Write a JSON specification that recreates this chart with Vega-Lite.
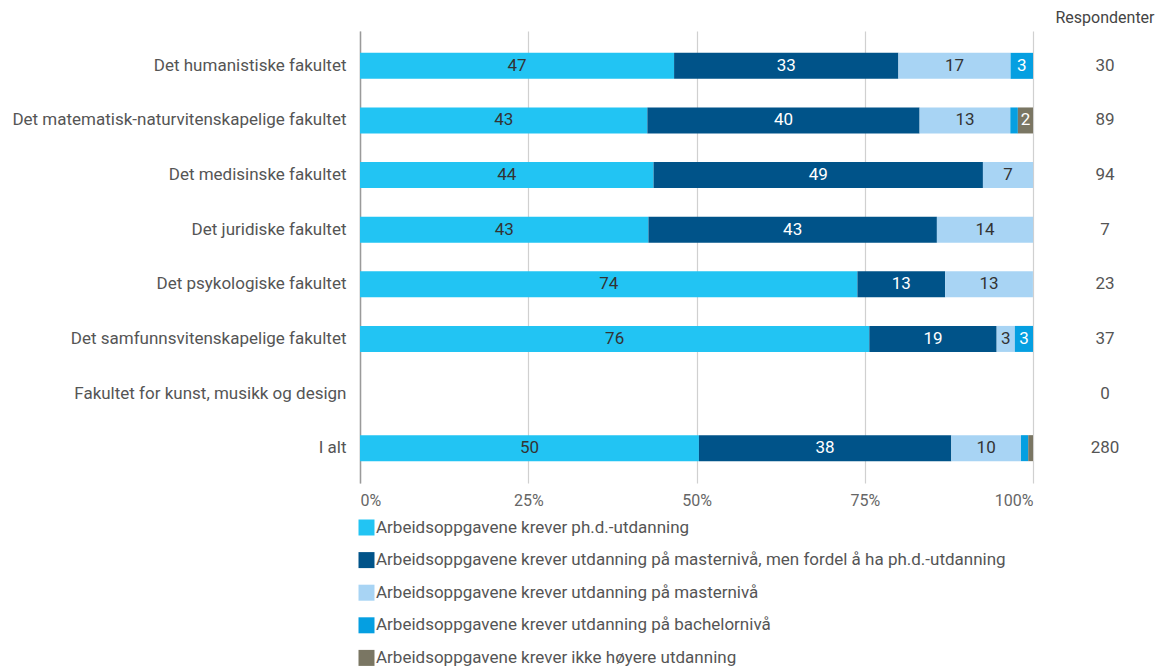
{
  "$schema": "https://vega.github.io/schema/vega-lite/v6.json",
  "padding": {"left": 5, "top": 10, "right": 5, "bottom": 0},
  "bounds": "flush",
  "spacing": 22,
  "config": {"font": "Roboto", "view": {"stroke": null}},
  "datasets": {
    "shares": [
      {"fac": "Det humanistiske fakultet", "cat": "Arbeidsoppgavene krever ph.d.-utdanning", "ord": 1, "val": 46.67},
      {"fac": "Det humanistiske fakultet", "cat": "Arbeidsoppgavene krever utdanning på masternivå, men fordel å ha ph.d.-utdanning", "ord": 2, "val": 33.33},
      {"fac": "Det humanistiske fakultet", "cat": "Arbeidsoppgavene krever utdanning på masternivå", "ord": 3, "val": 16.67},
      {"fac": "Det humanistiske fakultet", "cat": "Arbeidsoppgavene krever utdanning på bachelornivå", "ord": 4, "val": 3.33},
      {"fac": "Det matematisk-naturvitenskapelige fakultet", "cat": "Arbeidsoppgavene krever ph.d.-utdanning", "ord": 1, "val": 42.7},
      {"fac": "Det matematisk-naturvitenskapelige fakultet", "cat": "Arbeidsoppgavene krever utdanning på masternivå, men fordel å ha ph.d.-utdanning", "ord": 2, "val": 40.45},
      {"fac": "Det matematisk-naturvitenskapelige fakultet", "cat": "Arbeidsoppgavene krever utdanning på masternivå", "ord": 3, "val": 13.48},
      {"fac": "Det matematisk-naturvitenskapelige fakultet", "cat": "Arbeidsoppgavene krever utdanning på bachelornivå", "ord": 4, "val": 1.12},
      {"fac": "Det matematisk-naturvitenskapelige fakultet", "cat": "Arbeidsoppgavene krever ikke høyere utdanning", "ord": 5, "val": 2.25},
      {"fac": "Det medisinske fakultet", "cat": "Arbeidsoppgavene krever ph.d.-utdanning", "ord": 1, "val": 43.62},
      {"fac": "Det medisinske fakultet", "cat": "Arbeidsoppgavene krever utdanning på masternivå, men fordel å ha ph.d.-utdanning", "ord": 2, "val": 48.94},
      {"fac": "Det medisinske fakultet", "cat": "Arbeidsoppgavene krever utdanning på masternivå", "ord": 3, "val": 7.45},
      {"fac": "Det juridiske fakultet", "cat": "Arbeidsoppgavene krever ph.d.-utdanning", "ord": 1, "val": 42.86},
      {"fac": "Det juridiske fakultet", "cat": "Arbeidsoppgavene krever utdanning på masternivå, men fordel å ha ph.d.-utdanning", "ord": 2, "val": 42.86},
      {"fac": "Det juridiske fakultet", "cat": "Arbeidsoppgavene krever utdanning på masternivå", "ord": 3, "val": 14.29},
      {"fac": "Det psykologiske fakultet", "cat": "Arbeidsoppgavene krever ph.d.-utdanning", "ord": 1, "val": 73.91},
      {"fac": "Det psykologiske fakultet", "cat": "Arbeidsoppgavene krever utdanning på masternivå, men fordel å ha ph.d.-utdanning", "ord": 2, "val": 13.04},
      {"fac": "Det psykologiske fakultet", "cat": "Arbeidsoppgavene krever utdanning på masternivå", "ord": 3, "val": 13.04},
      {"fac": "Det samfunnsvitenskapelige fakultet", "cat": "Arbeidsoppgavene krever ph.d.-utdanning", "ord": 1, "val": 75.68},
      {"fac": "Det samfunnsvitenskapelige fakultet", "cat": "Arbeidsoppgavene krever utdanning på masternivå, men fordel å ha ph.d.-utdanning", "ord": 2, "val": 18.92},
      {"fac": "Det samfunnsvitenskapelige fakultet", "cat": "Arbeidsoppgavene krever utdanning på masternivå", "ord": 3, "val": 2.7},
      {"fac": "Det samfunnsvitenskapelige fakultet", "cat": "Arbeidsoppgavene krever utdanning på bachelornivå", "ord": 4, "val": 2.7},
      {"fac": "I alt", "cat": "Arbeidsoppgavene krever ph.d.-utdanning", "ord": 1, "val": 50.36},
      {"fac": "I alt", "cat": "Arbeidsoppgavene krever utdanning på masternivå, men fordel å ha ph.d.-utdanning", "ord": 2, "val": 37.5},
      {"fac": "I alt", "cat": "Arbeidsoppgavene krever utdanning på masternivå", "ord": 3, "val": 10.36},
      {"fac": "I alt", "cat": "Arbeidsoppgavene krever utdanning på bachelornivå", "ord": 4, "val": 1.07},
      {"fac": "I alt", "cat": "Arbeidsoppgavene krever ikke høyere utdanning", "ord": 5, "val": 0.71}
    ],
    "resp": [
      {"fac": "Det humanistiske fakultet", "n": 30},
      {"fac": "Det matematisk-naturvitenskapelige fakultet", "n": 89},
      {"fac": "Det medisinske fakultet", "n": 94},
      {"fac": "Det juridiske fakultet", "n": 7},
      {"fac": "Det psykologiske fakultet", "n": 23},
      {"fac": "Det samfunnsvitenskapelige fakultet", "n": 37},
      {"fac": "Fakultet for kunst, musikk og design", "n": 0},
      {"fac": "I alt", "n": 280}
    ]
  },
  "hconcat": [
    {
      "width": 673,
      "height": 452,
      "data": {"name": "shares"},
      "encoding": {
        "y": {
          "field": "fac", "type": "nominal",
          "scale": {
            "type": "band",
            "domain": ["Det humanistiske fakultet", "Det matematisk-naturvitenskapelige fakultet", "Det medisinske fakultet", "Det juridiske fakultet", "Det psykologiske fakultet", "Det samfunnsvitenskapelige fakultet", "Fakultet for kunst, musikk og design", "I alt"],
            "paddingInner": 0.524, "paddingOuter": 0.4
          },
          "axis": {
            "title": null, "ticks": false, "domain": true, "domainColor": "#9a9a9a", "domainWidth": 1.5,
            "labelFontSize": 17, "labelColor": "#555555", "labelPadding": 14, "labelLimit": 400,
            "minExtent": 355, "maxExtent": 355
          }
        },
        "order": {"field": "ord", "type": "quantitative"}
      },
      "layer": [
        {
          "mark": {"type": "bar"},
          "encoding": {
            "x": {
              "field": "val", "type": "quantitative", "stack": "zero",
              "scale": {"domain": [0, 100], "nice": false},
              "axis": {
                "title": null, "values": [0, 25, 50, 75, 100], "labelExpr": "datum.value + '%'",
                "grid": true, "gridColor": "#d0d0d0", "gridWidth": 1.2, "ticks": false, "domain": false,
                "labelFontSize": 16, "labelColor": "#666666", "labelPadding": 9
              }
            },
            "color": {
              "field": "cat", "type": "nominal",
              "scale": {
                "domain": ["Arbeidsoppgavene krever ph.d.-utdanning", "Arbeidsoppgavene krever utdanning på masternivå, men fordel å ha ph.d.-utdanning", "Arbeidsoppgavene krever utdanning på masternivå", "Arbeidsoppgavene krever utdanning på bachelornivå", "Arbeidsoppgavene krever ikke høyere utdanning"],
                "range": ["#22c4f3", "#005389", "#a8d4f4", "#059fe1", "#7a7663"]
              },
              "legend": {
                "title": null, "orient": "none", "legendX": -2, "legendY": 488, "direction": "vertical",
                "symbolType": "square", "symbolSize": 256, "symbolStrokeWidth": 0,
                "labelFontSize": 17, "labelColor": "#555555", "rowPadding": 14.6, "labelOffset": 1,
                "labelLimit": 800, "padding": 0
              }
            }
          }
        },
        {
          "mark": {"type": "text", "fontSize": 17},
          "encoding": {
            "x": {"field": "val", "type": "quantitative", "stack": "zero", "bandPosition": 0.5},
            "text": {"condition": {"test": "datum.val >= 1.5", "field": "val", "type": "quantitative", "format": ".0f"}, "value": ""},
            "color": {
              "condition": {"test": "datum.ord == 1 || datum.ord == 3", "value": "#333333"},
              "value": "#ffffff"
            }
          }
        }
      ]
    },
    {
      "width": 100,
      "height": 452,
      "data": {"name": "resp"},
      "title": {"text": "Respondenter", "fontSize": 16, "fontWeight": "normal", "color": "#444444", "anchor": "middle", "offset": 5},
      "mark": {"type": "text", "fontSize": 17, "color": "#555555"},
      "encoding": {
        "y": {
          "field": "fac", "type": "nominal",
          "scale": {
            "type": "band",
            "domain": ["Det humanistiske fakultet", "Det matematisk-naturvitenskapelige fakultet", "Det medisinske fakultet", "Det juridiske fakultet", "Det psykologiske fakultet", "Det samfunnsvitenskapelige fakultet", "Fakultet for kunst, musikk og design", "I alt"],
            "paddingInner": 0.524, "paddingOuter": 0.4
          },
          "axis": null
        },
        "text": {"field": "n", "type": "quantitative"}
      }
    }
  ],
  "resolve": {"scale": {"y": "independent"}}
}
